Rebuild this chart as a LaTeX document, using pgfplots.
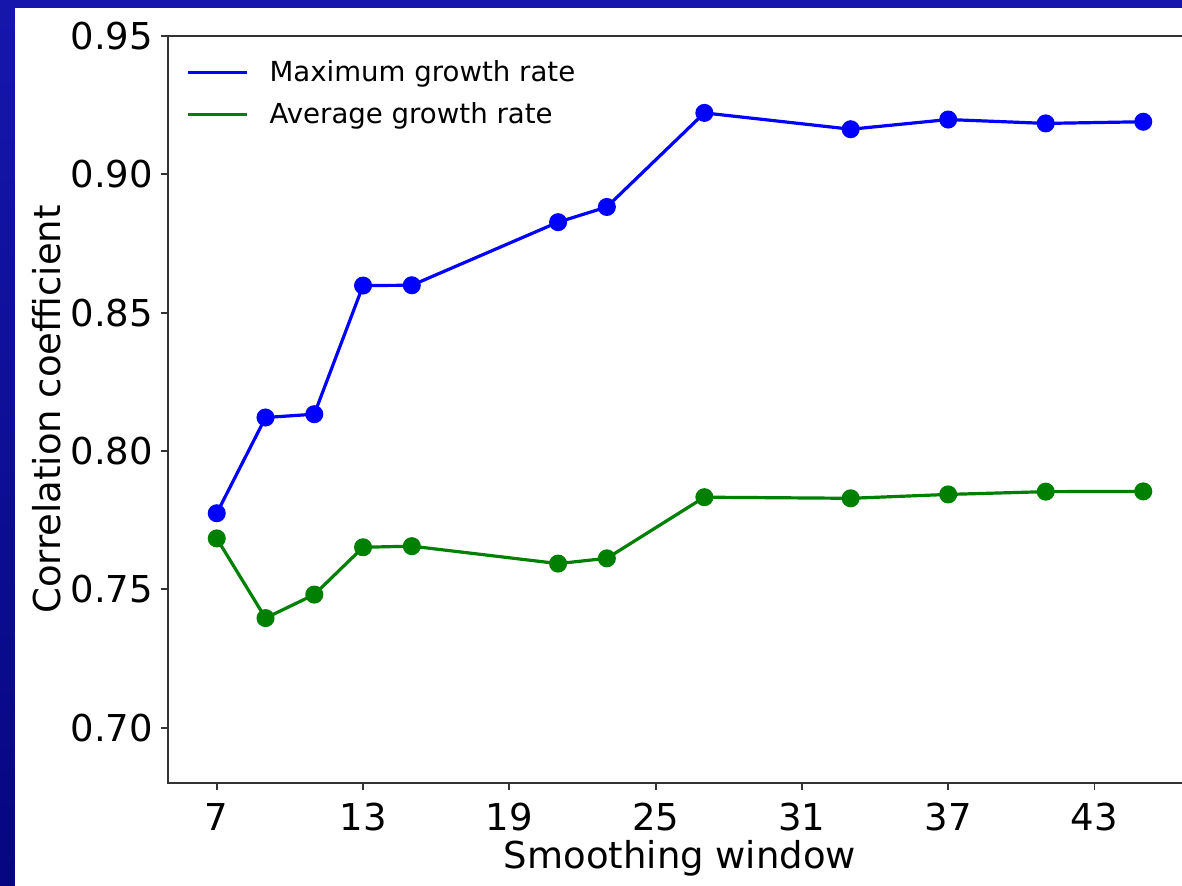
\documentclass[border=0pt]{standalone}
\usepackage{fontspec}
\setmainfont{DejaVu Sans}
\usepackage{pgfplots}
\pgfplotsset{compat=1.18}
\definecolor{bgtop}{RGB}{22,22,172}
\definecolor{bgbot}{RGB}{6,6,130}
\definecolor{mplgreen}{RGB}{0,128,0}
\definecolor{mplblue}{RGB}{0,0,255}
\begin{document}
\begin{tikzpicture}
\useasboundingbox (0,0) rectangle (591pt,443pt);
\shade[top color=bgtop, bottom color=bgbot] (0,0) rectangle (591pt,443pt);
\fill[white] (7.5pt,0) rectangle (591pt,439pt);
\clip (0,0) rectangle (591pt,443pt);
\begin{axis}[
  at={(84pt,51.5pt)}, anchor=south west,
  scale only axis, width=512pt, height=373.5pt,
  xmin=5, xmax=47, ymin=0.68, ymax=0.95,
  xtick={7,13,19,25,31,37,43},
  ytick={0.70,0.75,0.80,0.85,0.90,0.95},
  /pgf/number format/assume math mode=true,
  tick label style={font=\fontsize{18.5}{21}\selectfont, text=black},
  yticklabel style={/tikz/xshift=-0.5pt, /pgf/number format/fixed, /pgf/number format/fixed zerofill, /pgf/number format/precision=2},
  xticklabel style={/tikz/yshift=-3pt},
  xlabel={Smoothing window},
  ylabel={Correlation coefficient},
  every axis y label/.style={at={(axis description cs:-0.118,0.5)}, rotate=90, anchor=center, font=\fontsize{18.5}{21}\selectfont},
  every axis x label/.style={at={(axis description cs:0.5,-0.1004)}, anchor=center, font=\fontsize{18.5}{21}\selectfont},
  axis line style={line width=0.9pt, black!80},
  tick style={line width=0.9pt, black!80},
  major tick length=3.5pt, tick align=outside, tick pos=left,
  legend cell align=left,
  legend style={at={(axis description cs:0.0,1.0)}, anchor=north west,
    xshift=6pt, yshift=-8pt, draw=none, fill=none,
    font=\fontsize{13.8}{16}\selectfont, row sep=5pt, column sep=8.5pt},
  legend image code/.code={\draw[#1, line width=1.6pt] (0pt,0pt) -- (29.5pt,0pt);},
]
\addlegendimage{mplblue}
\addlegendentry{Maximum growth rate}
\addlegendimage{mplgreen}
\addlegendentry{Average growth rate}
\addplot[mplblue, line width=1.6pt, mark=*, mark size=3.7pt, forget plot] coordinates {
(7,0.7775) (9,0.8121) (11,0.8133) (13,0.8598) (15,0.8599) (21,0.8827) (23,0.8882)
(27,0.9222) (33,0.9163) (37,0.9198) (41,0.9184) (45,0.9190)};
\addplot[mplgreen, line width=1.6pt, mark=*, mark size=3.7pt, forget plot] coordinates {
(7,0.7684) (9,0.7396) (11,0.7481) (13,0.7652) (15,0.7656) (21,0.7593) (23,0.7612)
(27,0.7833) (33,0.7829) (37,0.7843) (41,0.7853) (45,0.7854)};
\end{axis}
\end{tikzpicture}
\end{document}
